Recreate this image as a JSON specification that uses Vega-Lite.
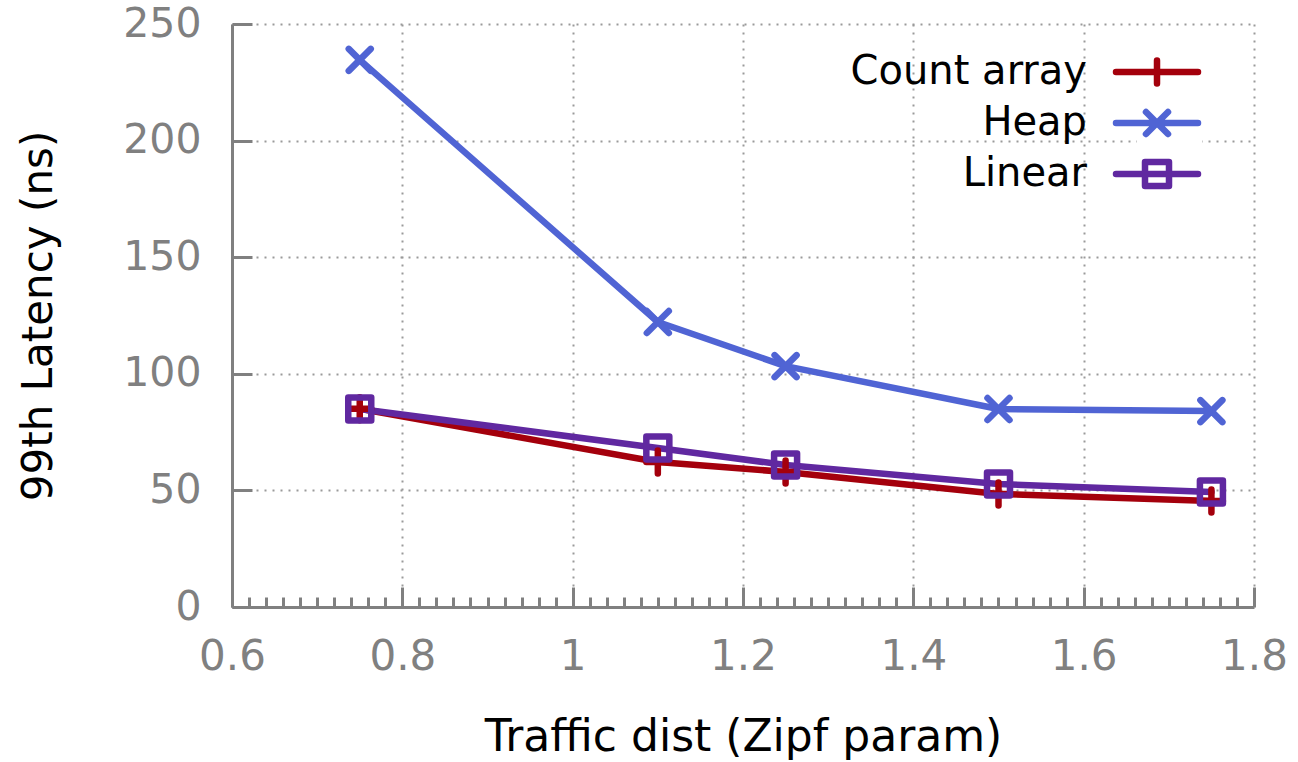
{
  "$schema": "https://vega.github.io/schema/vega-lite/v6.json",
  "width": 1022,
  "height": 583,
  "autosize": "none",
  "padding": {"left": 232, "top": 24, "right": 44, "bottom": 155},
  "background": "white",
  "config": {
    "font": "DejaVu Sans",
    "view": {"stroke": null},
    "axis": {
      "domainColor": "#808080",
      "domainWidth": 3,
      "tickColor": "#808080",
      "tickWidth": 3,
      "labelColor": "#808080",
      "labelFont": "DejaVu Sans",
      "titleFont": "DejaVu Sans",
      "titleFontWeight": "normal",
      "titleColor": "#000000",
      "gridColor": "#9a9a9a",
      "gridDash": [2, 6],
      "gridWidth": 2
    }
  },
  "data": {
    "values": [
      {"zipf": 0.75, "latency": 85.0, "series": "Count array"},
      {"zipf": 1.1, "latency": 62.2, "series": "Count array"},
      {"zipf": 1.25, "latency": 57.9, "series": "Count array"},
      {"zipf": 1.5, "latency": 48.5, "series": "Count array"},
      {"zipf": 1.75, "latency": 45.5, "series": "Count array"},
      {"zipf": 0.75, "latency": 234.6, "series": "Heap"},
      {"zipf": 1.1, "latency": 122.2, "series": "Heap"},
      {"zipf": 1.25, "latency": 103.3, "series": "Heap"},
      {"zipf": 1.5, "latency": 84.9, "series": "Heap"},
      {"zipf": 1.75, "latency": 84.0, "series": "Heap"},
      {"zipf": 0.75, "latency": 84.9, "series": "Linear"},
      {"zipf": 1.1, "latency": 68.2, "series": "Linear"},
      {"zipf": 1.25, "latency": 60.9, "series": "Linear"},
      {"zipf": 1.5, "latency": 52.7, "series": "Linear"},
      {"zipf": 1.75, "latency": 49.3, "series": "Linear"}
    ]
  },
  "encoding": {
    "x": {
      "field": "zipf",
      "type": "quantitative",
      "scale": {"domain": [0.6, 1.8], "nice": false, "zero": false},
      "axis": {
        "title": "Traffic dist (Zipf param)",
        "orient": "bottom",
        "values": [0.6, 0.62, 0.64, 0.66, 0.68, 0.7, 0.72, 0.74, 0.76, 0.78, 0.8, 0.82, 0.84, 0.86, 0.88, 0.9, 0.92, 0.94, 0.96, 0.98, 1.0, 1.02, 1.04, 1.06, 1.08, 1.1, 1.12, 1.14, 1.16, 1.18, 1.2, 1.22, 1.24, 1.26, 1.28, 1.3, 1.32, 1.34, 1.36, 1.38, 1.4, 1.42, 1.44, 1.46, 1.48, 1.5, 1.52, 1.54, 1.56, 1.58, 1.6, 1.62, 1.64, 1.66, 1.68, 1.7, 1.72, 1.74, 1.76, 1.78, 1.8],
        "labelExpr": "abs(datum.value*5 - round(datum.value*5)) < 0.001 ? format(datum.value, '.1~f') : ''",
        "tickSize": {"condition": {"test": "abs(datum.value*5 - round(datum.value*5)) < 0.001", "value": -20}, "value": -10},
        "grid": true,
        "gridOpacity": {"condition": {"test": "abs(datum.value*5 - round(datum.value*5)) < 0.001", "value": 1}, "value": 0},
        "labelFontSize": 42,
        "labelPadding": 49,
        "labelFlush": false,
        "labelOverlap": false,
        "titleFontSize": 44,
        "titlePadding": 28
      }
    },
    "y": {
      "field": "latency",
      "type": "quantitative",
      "scale": {"domain": [0, 250], "nice": false},
      "axis": {
        "title": "99th Latency (ns)",
        "values": [0, 50, 100, 150, 200, 250],
        "tickSize": -20,
        "grid": true,
        "labelFontSize": 41,
        "labelPadding": 51,
        "labelFlush": false,
        "titleFontSize": 42,
        "titlePadding": 62
      }
    }
  },
  "layer": [
    {
      "mark": {"type": "line", "strokeWidth": 6.5, "strokeCap": "round", "strokeJoin": "round"},
      "encoding": {
        "color": {
          "field": "series",
          "type": "nominal",
          "scale": {"domain": ["Count array", "Heap", "Linear"], "range": ["#a4000c", "#5064d4", "#6028a0"]},
          "legend": {
            "title": null,
            "orient": "none",
            "legendX": 905,
            "legendY": 28,
            "fillColor": "white",
            "padding": 0,
            "symbolType": "stroke",
            "symbolSize": 400,
            "symbolStrokeWidth": 6.5,
            "labelFontSize": 40,
            "labelColor": "#000000",
            "labelFont": "DejaVu Sans",
            "labelLimit": 500,
            "labelAlign": "right",
            "labelOffset": -90,
            "rowPadding": 11,
            "encode": {
              "symbols": {
                "update": {
                  "shape": {"signal": "datum.value === 'Count array' ? 'M-4.1,0H4.1M0,-1.15V1.15' : datum.value === 'Heap' ? 'M-4.1,0H4.1M-1.1,-1.1L1.1,1.1M-1.1,1.1L1.1,-1.1' : 'M-4.1,0H4.1M-1.2,-1.2H1.2V1.2H-1.2Z'"},
                  "strokeWidth": {"value": 6.5},
                  "strokeCap": {"value": "round"},
                  "strokeJoin": {"value": "round"}
                }
              }
            }
          }
        }
      }
    },
    {
      "transform": [{"filter": "datum.series === 'Count array'"}],
      "mark": {"type": "point", "shape": "M-1,0H1M0,-1V1", "size": 529, "filled": false, "strokeWidth": 6.5, "strokeCap": "round", "opacity": 1, "color": "#a4000c"}
    },
    {
      "transform": [{"filter": "datum.series === 'Heap'"}],
      "mark": {"type": "point", "shape": "M-1,-1L1,1M-1,1L1,-1", "size": 484, "filled": false, "strokeWidth": 6.5, "strokeCap": "round", "opacity": 1, "color": "#5064d4"}
    },
    {
      "transform": [{"filter": "datum.series === 'Linear'"}],
      "mark": {"type": "point", "shape": "M-1,-1H1V1H-1Z", "size": 529, "filled": false, "strokeWidth": 6.5, "strokeJoin": "round", "opacity": 1, "color": "#6028a0"}
    }
  ]
}
